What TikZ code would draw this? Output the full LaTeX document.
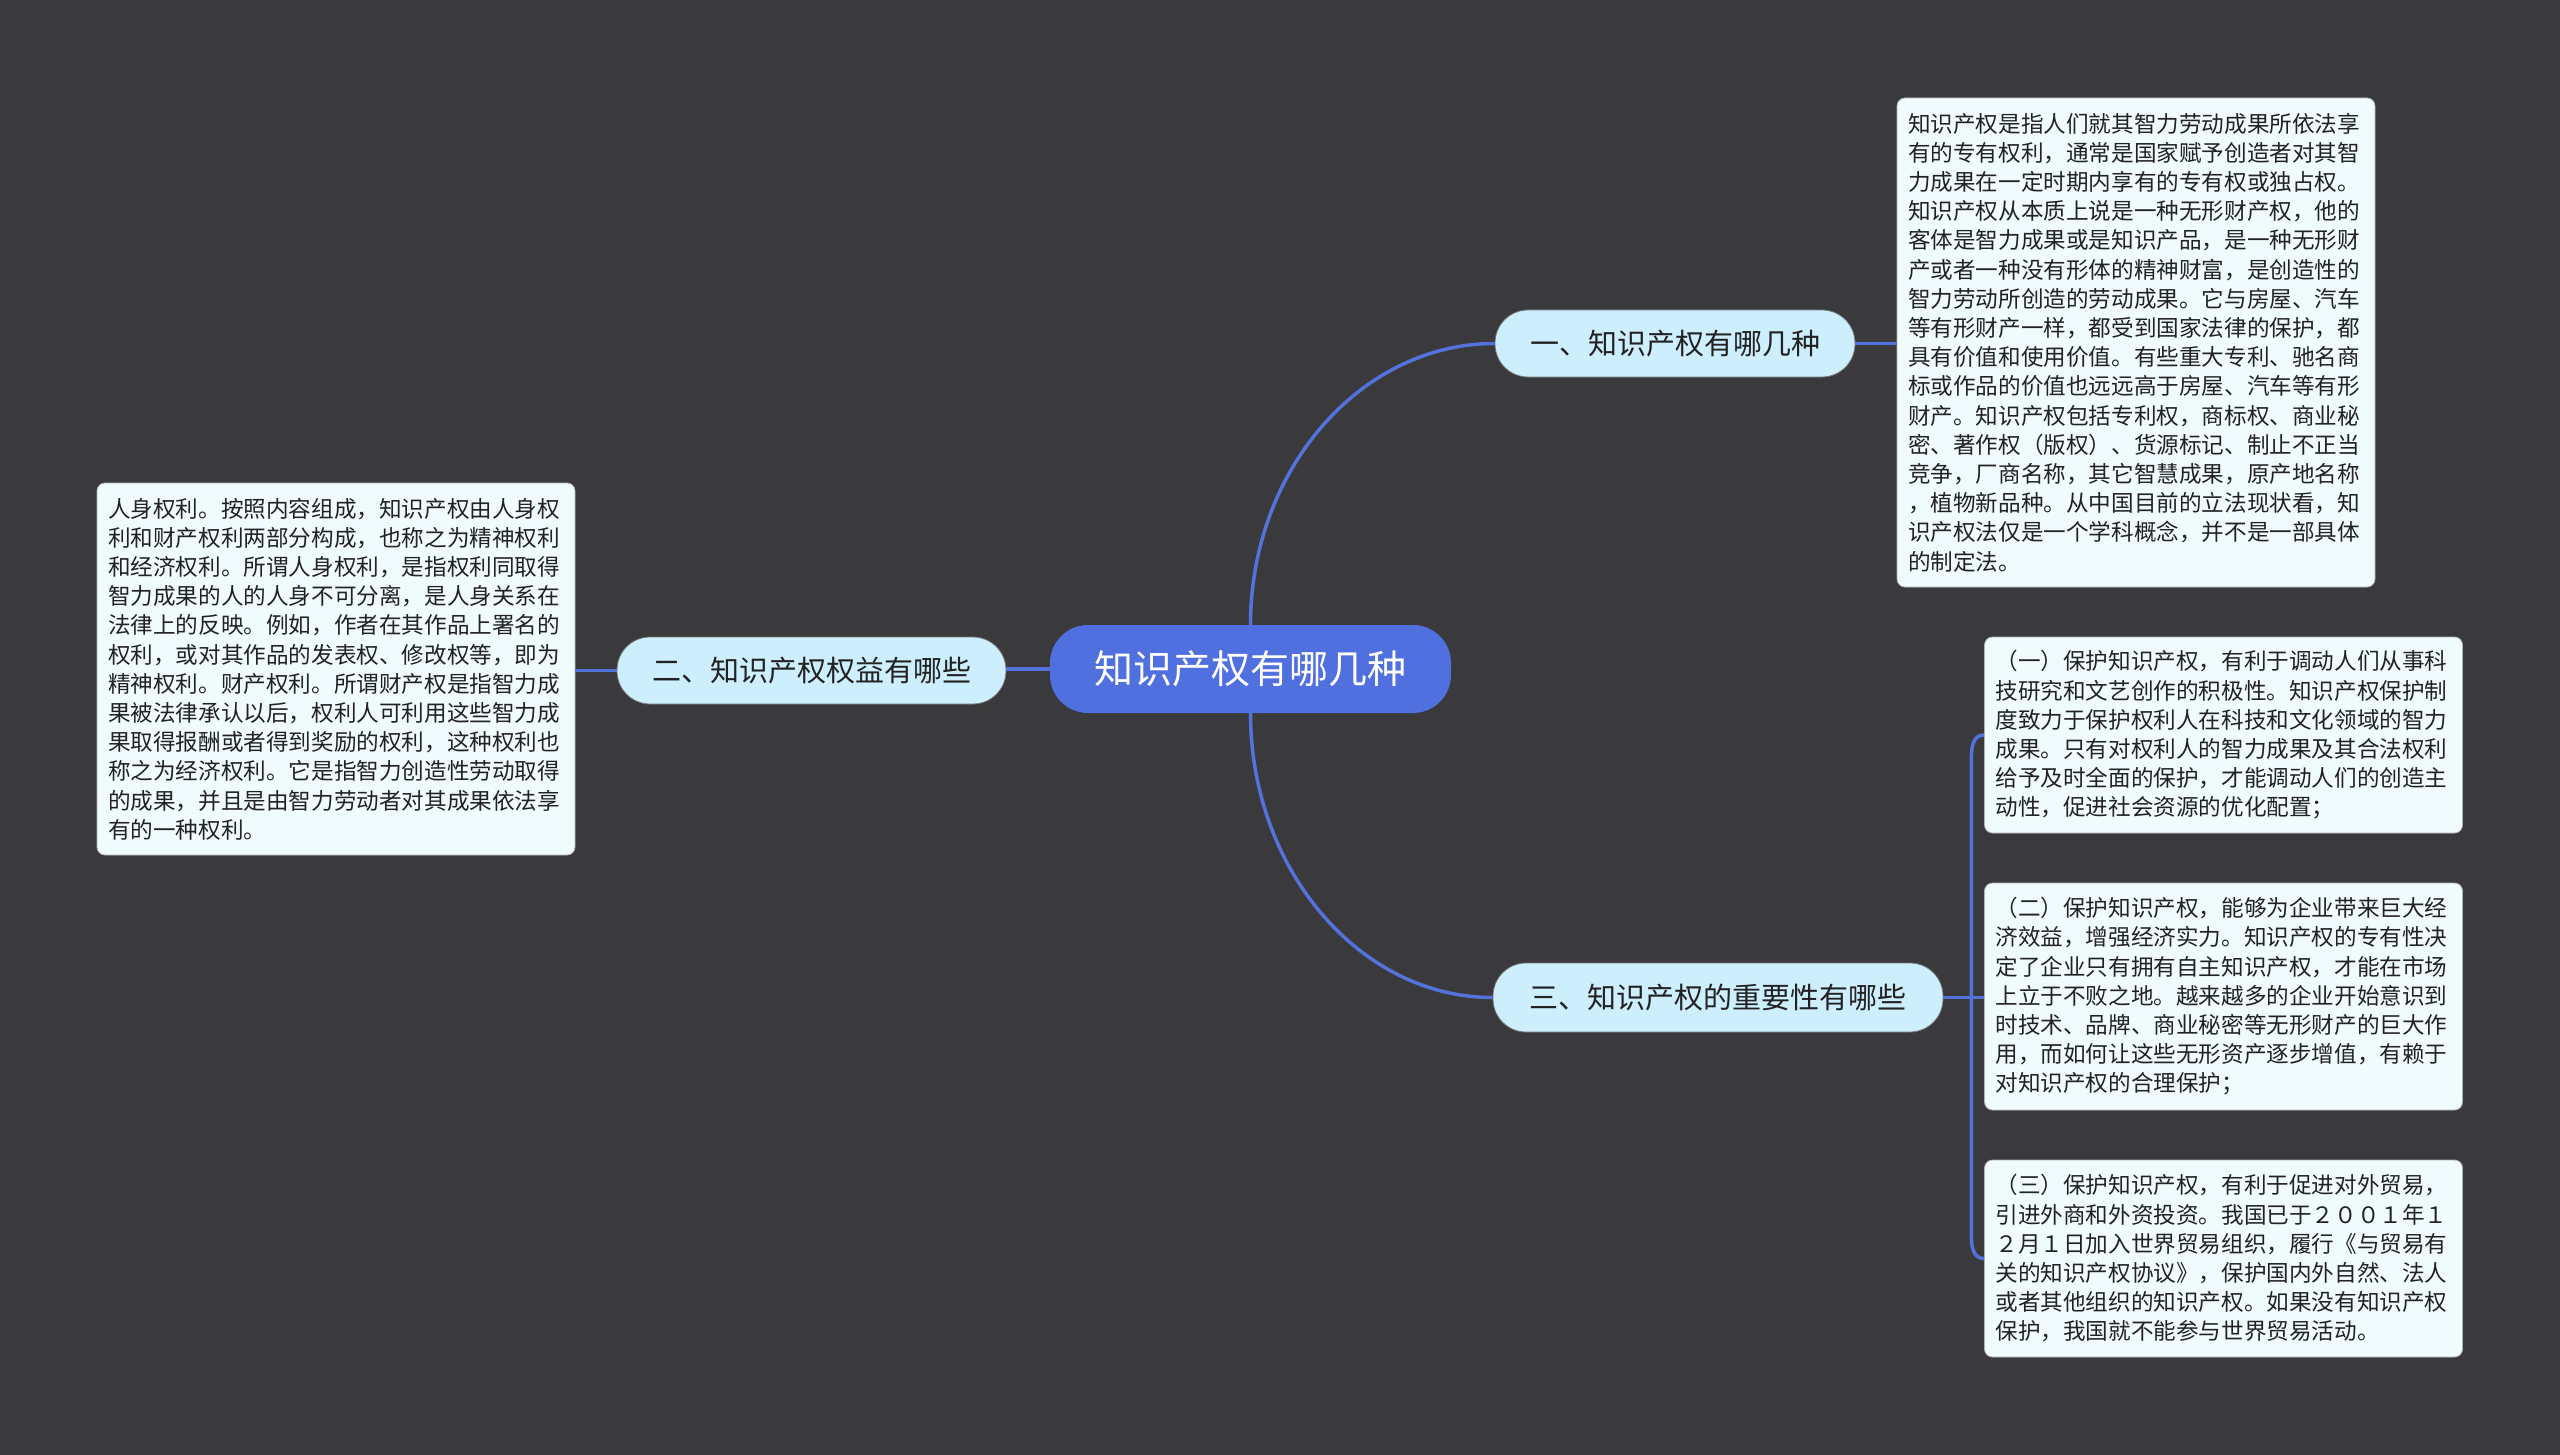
\documentclass[tikz,border=0pt]{standalone}
\usepackage{fontspec}
\newfontfamily\cjk{Noto Sans CJK SC}
\usetikzlibrary{calc}
\definecolor{bgc}{RGB}{58,57,59}
\definecolor{linec}{RGB}{84,114,220}
\definecolor{rootc}{RGB}{80,112,224}
\definecolor{subc}{RGB}{204,238,253}
\definecolor{leafc}{RGB}{240,251,253}
\definecolor{txtc}{RGB}{34,34,34}
\tikzset{
 root/.style={fill=rootc, draw=none, rounded corners=38pt, minimum width=401pt, minimum height=88pt, inner sep=0pt, text=white, font=\cjk\fontsize{39}{44}\selectfont},
 sub/.style={fill=subc, draw=black!55, line width=0.8pt, rounded corners=33pt, minimum height=67pt, inner sep=0pt, text=txtc, font=\cjk\fontsize{29}{34}\selectfont},
 leaf/.style={fill=leafc, draw=gray!60, line width=0.8pt, rounded corners=8pt, text width=456pt, align=left, inner xsep=11pt, inner ysep=0pt, text=txtc, font=\cjk\fontsize{22.6}{29.2}\selectfont},
 conn/.style={draw=linec, line width=3.5pt},
}
\begin{document}
\begin{tikzpicture}[x=1pt,y=-1pt]
\useasboundingbox (0,0) rectangle (2560,1455);
\fill[bgc] (0,0) rectangle (2560,1455);

\node[root] (c) at (1250.5,669) {知识产权有哪几种};
\node[sub, minimum width=360pt] (s1) at (1675,343.5) {一、知识产权有哪几种};
\node[sub, minimum width=389pt] (s2) at (811.5,670.5) {二、知识产权权益有哪些};
\node[sub, minimum width=450pt, minimum height=69pt] (s3) at (1718,997.5) {三、知识产权的重要性有哪些};

\node[leaf, minimum height=489pt] (l1) at (2136,342.5) {知识产权是指人们就其智力劳动成果所依法享\\有的专有权利，通常是国家赋予创造者对其智\\力成果在一定时期内享有的专有权或独占权。\\知识产权从本质上说是一种无形财产权，他的\\客体是智力成果或是知识产品，是一种无形财\\产或者一种没有形体的精神财富，是创造性的\\智力劳动所创造的劳动成果。它与房屋、汽车\\等有形财产一样，都受到国家法律的保护，都\\具有价值和使用价值。有些重大专利、驰名商\\标或作品的价值也远远高于房屋、汽车等有形\\财产。知识产权包括专利权，商标权、商业秘\\密、著作权（版权）、货源标记、制止不正当\\竞争，厂商名称，其它智慧成果，原产地名称\\，植物新品种。从中国目前的立法现状看，知\\识产权法仅是一个学科概念，并不是一部具体\\的制定法。};

\node[leaf, minimum height=372pt] (l2) at (336,669) {人身权利。按照内容组成，知识产权由人身权\\利和财产权利两部分构成，也称之为精神权利\\和经济权利。所谓人身权利，是指权利同取得\\智力成果的人的人身不可分离，是人身关系在\\法律上的反映。例如，作者在其作品上署名的\\权利，或对其作品的发表权、修改权等，即为\\精神权利。财产权利。所谓财产权是指智力成\\果被法律承认以后，权利人可利用这些智力成\\果取得报酬或者得到奖励的权利，这种权利也\\称之为经济权利。它是指智力创造性劳动取得\\的成果，并且是由智力劳动者对其成果依法享\\有的一种权利。};

\node[leaf, minimum height=196pt] (r1) at (2223.5,735) {（一）保护知识产权，有利于调动人们从事科\\技研究和文艺创作的积极性。知识产权保护制\\度致力于保护权利人在科技和文化领域的智力\\成果。只有对权利人的智力成果及其合法权利\\给予及时全面的保护，才能调动人们的创造主\\动性，促进社会资源的优化配置；};

\node[leaf, minimum height=227pt] (r2) at (2223.5,996.5) {（二）保护知识产权，能够为企业带来巨大经\\济效益，增强经济实力。知识产权的专有性决\\定了企业只有拥有自主知识产权，才能在市场\\上立于不败之地。越来越多的企业开始意识到\\时技术、品牌、商业秘密等无形财产的巨大作\\用，而如何让这些无形资产逐步增值，有赖于\\对知识产权的合理保护；};

\node[leaf, minimum height=197pt] (r3) at (2223.5,1258.5) {（三）保护知识产权，有利于促进对外贸易，\\引进外商和外资投资。我国已于２００１年１\\２月１日加入世界贸易组织，履行《与贸易有\\关的知识产权协议》，保护国内外自然、法人\\或者其他组织的知识产权。如果没有知识产权\\保护，我国就不能参与世界贸易活动。};

\draw[conn] (c.north) .. controls ($(c.north)+(0,-155)$) and ($(s1.west)+(-134,0)$) .. (s1.west);
\draw[conn] (c.south) .. controls ($(c.south)+(0,156)$) and ($(s3.west)+(-133,0)$) .. (s3.west);
\draw[conn] (c.west) -- (c.west -| s2.east);
\draw[conn] (s2.west) -- (s2.west -| l2.east);
\draw[conn] (s1.east) -- (s1.east -| l1.west);
\coordinate (fk) at ($(s3.east)+(28,0)$);
\draw[conn] (s3.east) -- (s3.east -| r2.west);
\draw[conn] (fk) -- ($(fk |- r1.west)+(0,22)$) .. controls ($(fk |- r1.west)+(0,6)$) and ($(r1.west)+(-8,0)$) .. (r1.west);
\draw[conn] (fk) -- ($(fk |- r3.west)+(0,-22)$) .. controls ($(fk |- r3.west)+(0,-6)$) and ($(r3.west)+(-8,0)$) .. (r3.west);
\end{tikzpicture}
\end{document}
